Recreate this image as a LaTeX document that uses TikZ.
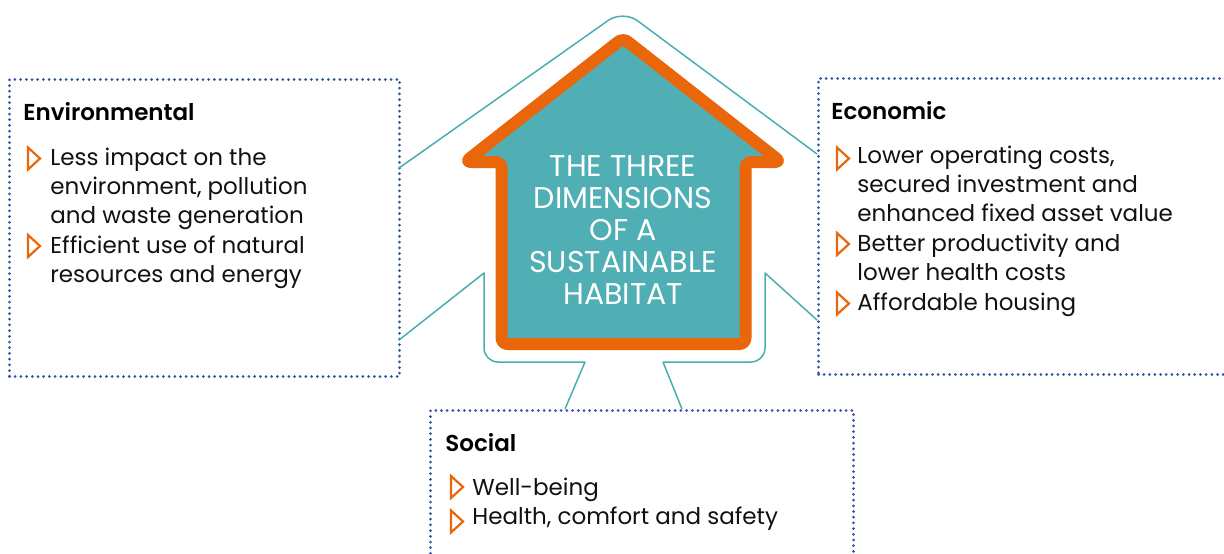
\documentclass[tikz,border=0pt]{standalone}
\usepackage{fontspec}
\setmainfont{Poppins}[BoldFont={Poppins SemiBold}]
\newfontfamily\titlefont[FakeStretch=1.0]{Poppins}
\definecolor{tealline}{HTML}{4AADB0}
\definecolor{tealfill}{HTML}{50AFB4}
\definecolor{orng}{HTML}{E9660B}
\definecolor{dotblue}{HTML}{3352A6}
\definecolor{txtc}{HTML}{111111}
\newcommand\tribul[3]{\draw[bul] (#2,#3-11) coordinate (#1) -- (#2+12,#3) -- (#2,#3+11) -- cycle;}
\begin{document}
\begin{tikzpicture}[x=0.5pt,y=-0.5pt,
  outline/.style={draw=tealline, line width=0.75pt, line join=round},
  dotbox/.style={draw=dotblue, line width=1.5pt, dash pattern=on 0pt off 2.85pt, line cap=round, inner sep=0pt},
  bul/.style={draw=orng, line width=1.1pt, line join=miter},
  txt/.style={anchor=base west, inner sep=0pt, text=txtc, font=\fontsize{11.5}{14.6}\selectfont},
  head/.style={anchor=base west, inner sep=0pt, text=black, font=\bfseries\fontsize{11.5}{14.6}\selectfont},
  housebody/.style={draw=orng, fill=tealfill, line width=6pt, line join=round, rounded corners=3pt},
  titletxt/.style={align=center, inner sep=0pt, text=white, font=\titlefont\fontsize{15}{16}\selectfont}
]
\useasboundingbox (0,0) rectangle (1224,553);
\clip (0,0) rectangle (1224,553);

% boxes
\node[dotbox, anchor=north west, minimum width=195pt, minimum height=148.5pt] (envbox) at (8,78) {};
\node[dotbox, anchor=north west, minimum width=211.5pt, minimum height=148pt] (ecobox) at (817,77) {};
\node[dotbox, anchor=north west, minimum width=211.5pt, minimum height=95.5pt] (socbox) at (429,409) {};

% connector end points on the boxes
\coordinate (envtop) at (399,168);
\coordinate (envbot) at (399,340);
\coordinate (ecotop) at (817,154);
\coordinate (ecobot) at (817,320);
\coordinate (socl) at (565,409);
\coordinate (socr) at (682,409);
\coordinate (apex) at (623,10);

% outer teal outlines
\draw[outline, rounded corners=9pt] (envtop) -- (apex) -- (ecotop);
\draw[outline] (envbot) -- (484,273) [rounded corners=7pt] -- (484,362) [sharp corners] -- (585,362) -- (socl);
\draw[outline] (ecobot) -- (765,273) [rounded corners=7pt] -- (765,362) [sharp corners] -- (663,362) -- (socr);

% house
\draw[housebody] (623,38) -- (781,162) -- (745.5,162) -- (745.5,344) -- (501.5,344) -- (501.5,162) -- (465,162) -- cycle;
\node[titletxt, anchor=north] (title) at (623,155) {THE THREE\\DIMENSIONS\\OF A\\SUSTAINABLE\\HABITAT};

% Environmental
\node[head] (envh) at (23,120) {Environmental};
\tribul{eb1}{28}{158.5}
\node[txt] (e1) at (50,165) {Less impact on the};
\node[txt] (e2) at (50,194) {environment, pollution};
\node[txt] (e3) at (50,223) {and waste generation};
\tribul{eb2}{28}{246}
\node[txt] (e4) at (50,253) {Efficient use of natural};
\node[txt] (e5) at (50,282) {resources and energy};

% Economic
\node[head] (ecoh) at (831,119) {Economic};
\tribul{cb1}{837}{158.5}
\node[txt] (c1) at (857,163) {Lower operating costs,};
\node[txt] (c2) at (857,192.5) {secured investment and};
\node[txt] (c3) at (857,221.5) {enhanced fixed asset value};
\tribul{cb2}{837}{244}
\node[txt] (c4) at (857,251) {Better productivity and};
\node[txt] (c5) at (857,280.5) {lower health costs};
\tribul{cb3}{837}{303.5}
\node[txt] (c6) at (857,310) {Affordable housing};

% Social
\node[head] (soch) at (445,451) {Social};
\tribul{sb1}{451}{487}
\node[txt] (s1) at (472,495) {Well-being};
\tribul{sb2}{451}{521.5}
\node[txt] (s2) at (472,524) {Health, comfort and safety};
\end{tikzpicture}
\end{document}
